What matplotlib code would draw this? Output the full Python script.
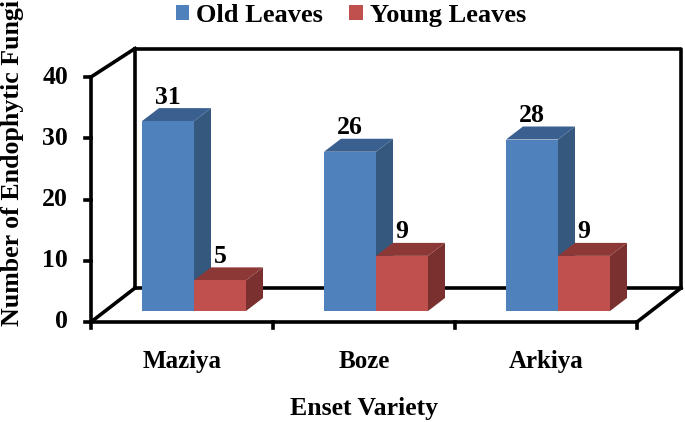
import matplotlib
matplotlib.use("Agg")
import matplotlib.pyplot as plt
from matplotlib.patches import Polygon, Patch

varieties = ["Maziya", "Boze", "Arkiya"]
old_leaves = [31, 26, 28]
young_leaves = [5, 9, 9]
y_ticks = [0, 10, 20, 30, 40]

plt.rcParams["font.family"] = ["Liberation Serif", "DejaVu Serif"]
plt.rcParams["font.weight"] = "bold"

W, H = 685, 422
fig = plt.figure(figsize=(W / 100, H / 100), dpi=100)
ax = fig.add_axes([0, 0, 1, 1])

# one category = 182 px, one fungus = 6.125 px
ux, uy = 182.0, 6.125
x0_px, y0_px = 182.0, 322.0
ax.set_xlim(-x0_px / ux, (W - x0_px) / ux)
ax.set_ylim(-(H - y0_px) / uy, y0_px / uy)
ax.axis("off")

# 3d look, in data units
left, right = -0.5, 2.5
top = y_ticks[-1]
floor_dx, floor_dy = 44 / ux, 34 / uy
depth_dx, depth_dy = 17 / ux, 13 / uy
bar_w = 52 / ux
bar_shift = 12 / ux
base = 11 / uy

line = dict(color="black", lw=2.6, solid_capstyle="projecting", zorder=1)
ax.plot([left + floor_dx] * 2, [floor_dy, top + floor_dy - 0.9], **line)
ax.plot([left + floor_dx, right + floor_dx, right + floor_dx],
        [top + floor_dy - 0.9, top + floor_dy - 0.9, floor_dy], **line)
ax.plot([left + floor_dx, right + floor_dx], [floor_dy, floor_dy], **line)
ax.plot([left, left + floor_dx], [top, top + floor_dy - 0.9], **line)
ax.plot([left, left + floor_dx], [0, floor_dy], **line)
ax.plot([right, right + floor_dx], [0, floor_dy], **line)


def draw_bar(x, val, front, side, roof):
    y1 = base + val
    ax.add_patch(Polygon([(x + bar_w, base), (x + bar_w + depth_dx, base + depth_dy),
                          (x + bar_w + depth_dx, y1 + depth_dy), (x + bar_w, y1)],
                         fc=side, ec="none", zorder=2))
    ax.add_patch(Polygon([(x, y1), (x + depth_dx, y1 + depth_dy),
                          (x + bar_w + depth_dx, y1 + depth_dy), (x + bar_w, y1)],
                         fc=roof, ec="none", zorder=2))
    ax.add_patch(Polygon([(x, base), (x + bar_w, base), (x + bar_w, y1), (x, y1)],
                         fc=front, ec="none", zorder=2))
    ax.text(x + bar_w / 2, y1 + depth_dy + 1.8, str(val), ha="center", va="center",
            fontsize=18.5, zorder=4)


for i in range(len(varieties)):
    c = i + bar_shift
    draw_bar(c - bar_w, old_leaves[i], "#4F81BD", "#35587F", "#3A6090")
    draw_bar(c, young_leaves[i], "#C0504D", "#7A302E", "#8C3836")

# front axes on top of the bars
ax.plot([left, left], [0, top], color="black", lw=2.6, zorder=3)
ax.plot([left, right], [0, 0], color="black", lw=2.6, zorder=3)
for t in y_ticks:
    ax.plot([left - 6 / ux, left], [t, t], color="black", lw=2.6, zorder=3)
    ax.text(left - 23 / ux, t, str(t), ha="right", va="center", fontsize=18.5)
for i in range(len(varieties) + 1):
    ax.plot([left + i] * 2, [0, -6 / uy], color="black", lw=2.6, zorder=3)
for i, name in enumerate(varieties):
    ax.text(i, -39.5 / uy, name, ha="center", va="center", fontsize=18)

ax.text(1, -86 / uy, "Enset Variety", ha="center", va="center", fontsize=18.5)
fig.text(13 / W, 1 - 163 / H, "Number of Endophytic Fungi", rotation=90,
         ha="center", va="center", fontsize=18.6)

handles = [Patch(fc="#4F81BD", ec="none", label="Old Leaves"),
           Patch(fc="#C0504D", ec="none", label="Young Leaves")]
fig.legend(handles=handles, ncol=2, frameon=False, fontsize=19,
           loc="upper left", bbox_to_anchor=(152 / W, 1 + 20 / H),
           handlelength=0.5, handleheight=0.5, handletextpad=0.27,
           columnspacing=1.0)

fig.savefig("out.png", dpi=100)
